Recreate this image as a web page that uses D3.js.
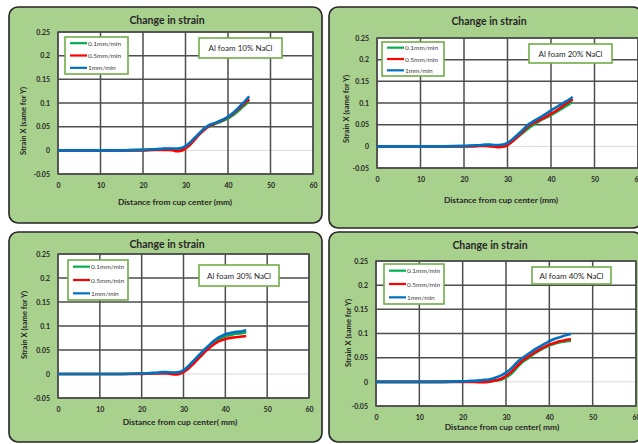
<!DOCTYPE html>
<html>
<head>
<meta charset="utf-8">
<script src="https://cdn.jsdelivr.net/npm/d3@7/dist/d3.min.js"></script>
<style>
  html, body { margin: 0; padding: 0; background: #ffffff; }
  svg { display: block; font-family: Lato, "Open Sans", sans-serif; }
</style>
</head>
<body>
<svg id="chart" width="638" height="444"></svg>
<script>
// Distances from the cup centre (mm) at which strain was sampled
const distance = [0, 5, 10, 15, 20, 22, 24, 25, 26, 27, 28, 29, 30, 31, 32, 33, 34, 35, 36, 37, 38, 39, 40, 41, 42, 43, 44, 45];

// Crosshead speeds
const speeds = ["0.1mm/min", "0.5mm/min", "1mm/min"];
const speedColors = ["#00b050", "#ff0000", "#0070c0"];

// Axis ticks
const xTicks = [0, 10, 20, 30, 40, 50, 60];
const yTicks = [-0.05, 0, 0.05, 0.1, 0.15, 0.2, 0.25];

// Strain X for Al foam, 10% NaCl
const foam10_slow = [0,0,0,0,0.001,0.001,0.002,0.003,0.003,0.002,0.002,0.003,0.006,0.013,0.022,0.032,0.041,0.048,0.052,0.056,0.059,0.063,0.067,0.073,0.080,0.088,0.096,0.103];
const foam10_mid  = [0,0,0,0,0,0.001,0.001,0.001,0.001,0,-0.002,-0.001,0.004,0.011,0.021,0.031,0.040,0.048,0.053,0.057,0.061,0.065,0.070,0.076,0.084,0.092,0.100,0.108];
const foam10_fast = [0,0,0,0,0.001,0.002,0.003,0.004,0.004,0.004,0.004,0.005,0.009,0.016,0.025,0.034,0.043,0.050,0.055,0.058,0.062,0.066,0.071,0.078,0.086,0.095,0.104,0.114];

// Strain X for Al foam, 20% NaCl
const foam20_slow = [0,0,0,0,0,0.001,0.002,0.002,0.002,0.001,0.001,0.002,0.005,0.011,0.019,0.027,0.035,0.043,0.050,0.056,0.062,0.067,0.072,0.078,0.084,0.090,0.096,0.103];
const foam20_mid  = [0,0,0,0,0,0,0.001,0.001,0,-0.001,-0.002,-0.001,0.003,0.010,0.019,0.029,0.039,0.048,0.054,0.059,0.064,0.069,0.075,0.081,0.088,0.095,0.102,0.109];
const foam20_fast = [0,0,0,0,0.001,0.002,0.003,0.004,0.004,0.003,0.003,0.004,0.008,0.015,0.024,0.033,0.043,0.052,0.058,0.064,0.070,0.076,0.083,0.089,0.095,0.101,0.107,0.114];

// Strain X for Al foam, 30% NaCl
const foam30_slow = [0,0,0,0,0.001,0.001,0.002,0.003,0.003,0.002,0.002,0.003,0.006,0.012,0.021,0.030,0.039,0.048,0.056,0.064,0.070,0.075,0.079,0.081,0.083,0.084,0.085,0.087];
const foam30_mid  = [0,0,0,0,0,0.001,0.001,0.001,0.001,0,-0.001,0,0.004,0.010,0.018,0.027,0.036,0.045,0.053,0.060,0.066,0.070,0.073,0.075,0.076,0.077,0.078,0.079];
const foam30_fast = [0,0,0,0,0.001,0.002,0.003,0.004,0.004,0.003,0.003,0.004,0.008,0.015,0.024,0.033,0.042,0.051,0.059,0.067,0.074,0.079,0.083,0.085,0.087,0.088,0.089,0.091];

// Strain X for Al foam, 40% NaCl
const foam40_slow = [0,0,0,0,0.001,0.001,0.001,0.001,0.001,0.002,0.003,0.005,0.009,0.015,0.024,0.034,0.042,0.048,0.055,0.061,0.066,0.071,0.075,0.078,0.081,0.083,0.084,0.085];
const foam40_mid  = [0,0,0,0,0,0,-0.001,-0.001,0,0.002,0.004,0.007,0.012,0.019,0.028,0.037,0.045,0.051,0.057,0.063,0.068,0.073,0.077,0.080,0.083,0.085,0.087,0.088];
const foam40_fast = [0,0,0,0,0.001,0.002,0.003,0.004,0.005,0.007,0.010,0.014,0.019,0.026,0.035,0.044,0.051,0.057,0.063,0.069,0.074,0.079,0.084,0.088,0.091,0.094,0.097,0.099];

const panelTitles = ["Al foam 10% NaCl", "Al foam 20% NaCl", "Al foam 30% NaCl", "Al foam 40% NaCl"];
const xLabels = ["Distance from cup center (mm)", "Distance from cup center (mm)", "Distance from cup center( mm)", "Distance from cup center( mm)"];

// Panel placement on the page
const layouts = [
  { box: [9, 7, 313, 216],  plot: [58, 32, 313, 174],  title: [167, 20], xl: [175, 202], yl: [23, 121], legend: [65, 37, 128, 74],  note: [199, 38, 282, 58] },
  { box: [329, 7, 313, 221], plot: [377, 38, 638, 168], title: [489, 21], xl: [501, 200], yl: [346, 109], legend: [382, 42, 444, 76], note: [529, 44, 612, 63] },
  { box: [9, 232, 313, 210], plot: [58, 254, 309, 398], title: [167, 244], xl: [180, 422], yl: [24, 325], legend: [68, 260, 128, 300], note: [199, 265, 279, 286] },
  { box: [329, 232, 313, 210], plot: [376, 261, 636, 406], title: [490, 245], xl: [502, 427], yl: [348, 333], legend: [384, 264, 444, 304], note: [532, 267, 611, 284] }
];

const panelSeries = [
  [foam10_slow, foam10_mid, foam10_fast],
  [foam20_slow, foam20_mid, foam20_fast],
  [foam30_slow, foam30_mid, foam30_fast],
  [foam40_slow, foam40_mid, foam40_fast]
];

const svg = d3.select("#chart");

function drawPanel(i) {
  const L = layouts[i];
  const g = svg.append("g");

  // Green card behind the chart
  g.append("rect")
    .attr("x", L.box[0]).attr("y", L.box[1])
    .attr("width", L.box[2]).attr("height", L.box[3])
    .attr("rx", 9).attr("ry", 9)
    .attr("fill", "#a9d18e").attr("stroke", "#262626").attr("stroke-width", 1.6);

  const [x0, y0, x1, y1] = L.plot;
  const x = d3.scaleLinear().domain([0, 60]).range([x0, x1]);
  const y = d3.scaleLinear().domain([-0.05, 0.25]).range([y1, y0]);

  g.append("rect")
    .attr("x", x0).attr("y", y0).attr("width", x1 - x0).attr("height", y1 - y0)
    .attr("fill", "#ffffff");

  // Grid
  g.append("g").selectAll("line").data(yTicks.filter(v => v !== 0)).join("line")
    .attr("x1", x0).attr("x2", x1)
    .attr("y1", d => y(d)).attr("y2", d => y(d))
    .attr("stroke", "#4d4d4d").attr("stroke-width", 1.5);
  g.append("line")
    .attr("x1", x0).attr("x2", x1).attr("y1", y(0)).attr("y2", y(0))
    .attr("stroke", "#d9d9d9").attr("stroke-width", 1);
  g.append("g").selectAll("line").data(xTicks).join("line")
    .attr("x1", d => x(d)).attr("x2", d => x(d))
    .attr("y1", y0).attr("y2", y1)
    .attr("stroke", "#4d4d4d").attr("stroke-width", 1.5);
  g.append("rect")
    .attr("x", x0).attr("y", y0).attr("width", x1 - x0).attr("height", y1 - y0)
    .attr("fill", "none").attr("stroke", "#4d4d4d").attr("stroke-width", 1.5);

  // Axes
  const yAxis = g.append("g").attr("transform", `translate(${x0 - 5},0)`)
    .call(d3.axisLeft(y).tickValues(yTicks).tickSize(0).tickFormat(d => String(+d.toFixed(2))));
  const xAxis = g.append("g").attr("transform", `translate(0,${y1 + 10})`)
    .call(d3.axisBottom(x).tickValues(xTicks).tickSize(0).tickFormat(d3.format("d")));
  [yAxis, xAxis].forEach(a => {
    a.select(".domain").remove();
    a.selectAll("text").attr("font-family", "Lato, sans-serif").attr("font-size", 7)
      .attr("font-weight", "bold").attr("fill", "#262626");
  });
  xAxis.selectAll("text").attr("dy", "0.2em");

  // Curves
  const line = d3.line()
    .x((d, k) => x(distance[k]))
    .y(d => y(d))
    .curve(d3.curveMonotoneX);
  panelSeries[i].forEach((vals, s) => {
    g.append("path").datum(vals)
      .attr("d", line)
      .attr("fill", "none")
      .attr("stroke", speedColors[s])
      .attr("stroke-width", 2.6)
      .attr("stroke-linejoin", "round");
  });

  // Titles
  g.append("text").attr("x", L.title[0]).attr("y", L.title[1])
    .attr("text-anchor", "middle").attr("dominant-baseline", "central")
    .attr("font-size", 10.5).attr("font-weight", "bold").attr("fill", "#262626")
    .text("Change in strain");
  g.append("text").attr("x", L.xl[0]).attr("y", L.xl[1])
    .attr("text-anchor", "middle").attr("dominant-baseline", "central")
    .attr("font-size", 8.4).attr("font-weight", "bold").attr("fill", "#262626")
    .text(xLabels[i]);
  g.append("text")
    .attr("transform", `translate(${L.yl[0]},${L.yl[1]}) rotate(-90)`)
    .attr("text-anchor", "middle").attr("dominant-baseline", "central")
    .attr("font-size", 7.6).attr("font-weight", "bold").attr("fill", "#262626")
    .text("Strain X (same for Y)");

  // Legend
  const [lx0, ly0, lx1, ly1] = L.legend;
  g.append("rect").attr("x", lx0).attr("y", ly0).attr("width", lx1 - lx0).attr("height", ly1 - ly0)
    .attr("fill", "#ffffff").attr("stroke", "#70ad47").attr("stroke-width", 1.6);
  const rowH = (ly1 - ly0) / 3;
  speeds.forEach((name, s) => {
    const ry = ly0 + rowH * (s + 0.5);
    g.append("line").attr("x1", lx0 + 5).attr("x2", lx0 + 22).attr("y1", ry).attr("y2", ry)
      .attr("stroke", speedColors[s]).attr("stroke-width", 2.2);
    g.append("text").attr("x", lx0 + 23).attr("y", ry)
      .attr("dominant-baseline", "central").attr("font-size", 6.5).attr("fill", "#404040")
      .text(name);
  });

  // Material note
  const [nx0, ny0, nx1, ny1] = L.note;
  g.append("rect").attr("x", nx0).attr("y", ny0).attr("width", nx1 - nx0).attr("height", ny1 - ny0)
    .attr("fill", "#ffffff").attr("stroke", "#70ad47").attr("stroke-width", 1.6);
  g.append("text").attr("x", (nx0 + nx1) / 2).attr("y", (ny0 + ny1) / 2)
    .attr("text-anchor", "middle").attr("dominant-baseline", "central")
    .attr("font-size", 8).attr("fill", "#262626")
    .text(panelTitles[i]);
}

[0, 1, 2, 3].forEach(drawPanel);
</script>
</body>
</html>
